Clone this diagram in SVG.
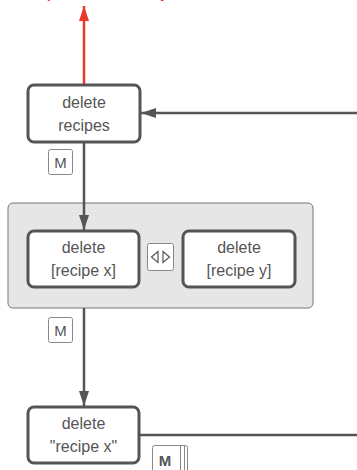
<svg xmlns="http://www.w3.org/2000/svg" width="357" height="470" viewBox="0 0 357 470">
<defs>
<style>
.node rect{fill:#fff;stroke:#555;stroke-width:3}
.node text,.lbl{font-family:"Liberation Sans",Arial,sans-serif;font-size:16px;fill:#555;text-anchor:middle}
.badge rect{fill:#fff;stroke:#888;stroke-width:1}
.badge text{font-family:"Liberation Sans",Arial,sans-serif;font-size:15px;fill:#555;text-anchor:middle}
.edge{stroke:#555;stroke-width:2.5;fill:none}
</style>
<marker id="ah" viewBox="0 0 15 10" refX="15" refY="5" markerWidth="6" markerHeight="4" orient="auto" markerUnits="strokeWidth"><path d="M0,0L15,5L0,10z" fill="#555"/></marker>
<marker id="ahr" viewBox="0 0 15 10" refX="15" refY="5" markerWidth="6" markerHeight="4" orient="auto" markerUnits="strokeWidth"><path d="M0,0L15,5L0,10z" fill="#e8392c"/></marker>
</defs>
<text x="18" y="-2" font-family="Liberation Sans,Arial,sans-serif" font-size="13" font-weight="bold" fill="#e8392c">Complete all deletion by</text>
<rect id="group" x="8" y="203" width="305" height="105" rx="5" fill="#e6e6e6" stroke="#777" stroke-width="1"/>
<g id="connectors">
<line x1="84" y1="85" x2="84" y2="6" stroke="#e8392c" stroke-width="2.5" marker-end="url(#ahr)"/>
<line class="edge" x1="357" y1="113" x2="141" y2="113" marker-end="url(#ah)"/>
<line class="edge" x1="84" y1="143" x2="84" y2="230" marker-end="url(#ah)"/>
<line class="edge" x1="84" y1="308" x2="84" y2="406" marker-end="url(#ah)"/>
<line class="edge" x1="140" y1="435" x2="357" y2="435"/>
</g>
<g id="n1" class="node"><rect x="28" y="85" width="112" height="57" rx="6"/><text x="84" y="108">delete</text><text x="84" y="131">recipes</text></g>
<g id="m1" class="badge"><rect x="48.5" y="149.5" width="24" height="25" rx="2"/><text x="60.5" y="167.5">M</text></g>
<g id="n2" class="node"><rect x="28" y="231" width="111" height="56" rx="6"/><text x="83.5" y="253">delete</text><text x="83.5" y="276">[recipe x]</text></g>
<g id="par" class="badge"><rect x="147.5" y="243.5" width="26" height="27" rx="2"/><path d="M158,251.5L151.5,257L158,262.5z M163,251.5L169.5,257L163,262.5z" fill="none" stroke="#555" stroke-width="1.2"/></g>
<g id="n3" class="node"><rect x="183" y="231" width="112" height="56" rx="6"/><text x="239" y="253">delete</text><text x="239" y="276">[recipe y]</text></g>
<g id="m2" class="badge"><rect x="48.5" y="317.5" width="24" height="25" rx="2"/><text x="60.5" y="335.5">M</text></g>
<g id="n4" class="node"><rect x="28" y="407" width="111" height="56" rx="6"/><text x="83.5" y="429">delete</text><text x="83.5" y="452">"recipe x"</text></g>
<g id="m3" class="badge"><rect x="152.5" y="445.5" width="35" height="30" rx="2"/><line x1="180.5" y1="446" x2="180.5" y2="470" stroke="#888"/><line x1="184.5" y1="446" x2="184.5" y2="470" stroke="#888"/><text x="165" y="466" font-weight="bold">M</text></g>
</svg>
